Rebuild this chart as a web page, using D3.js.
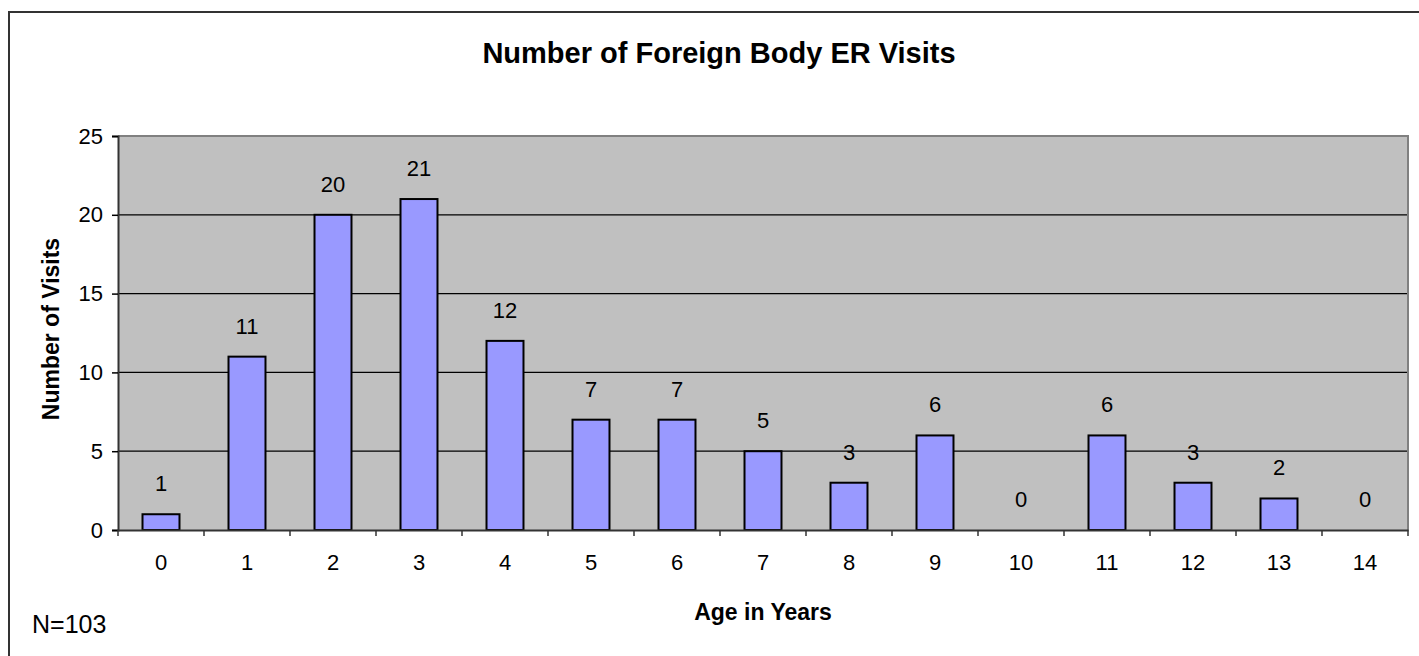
<!DOCTYPE html>
<html>
<head>
<meta charset="utf-8">
<script src="https://cdn.jsdelivr.net/npm/d3@7"></script>
<style>
  html, body { margin: 0; padding: 0; background: #fff; overflow: hidden; }
  svg { display: block; font-family: "Liberation Sans", Arial, sans-serif; }
</style>
</head>
<body>
<svg id="chart" width="1419" height="656"></svg>
<script>
const ages = ["0","1","2","3","4","5","6","7","8","9","10","11","12","13","14"];
const visits = [1, 11, 20, 21, 12, 7, 7, 5, 3, 6, 0, 6, 3, 2, 0];
const yTicks = [0, 5, 10, 15, 20, 25];
const titleText = "Number of Foreign Body ER Visits";
const xTitle = "Age in Years";
const yTitle = "Number of Visits";
const noteText = "N=103";

const svg = d3.select("#chart");
const W = 1419, H = 656;
const plot = { left: 118, right: 1408, top: 136, bottom: 530 };

// outer frame: only left and top edges are inside the picture
svg.append("line").attr("x1", 9).attr("x2", 9).attr("y1", 11).attr("y2", H)
  .attr("stroke", "#333").attr("stroke-width", 2);
svg.append("line").attr("x1", 8).attr("x2", W).attr("y1", 12).attr("y2", 12)
  .attr("stroke", "#333").attr("stroke-width", 2);

const x = d3.scaleBand().domain(ages).range([plot.left, plot.right])
  .paddingInner(0.57).paddingOuter(0.285);
const y = d3.scaleLinear().domain([0, 25]).range([plot.bottom, plot.top]);

// plot background
svg.append("rect")
  .attr("x", plot.left).attr("y", plot.top)
  .attr("width", plot.right - plot.left).attr("height", plot.bottom - plot.top)
  .attr("fill", "#c0c0c0");

// gridlines
svg.append("g").selectAll("line").data(yTicks.filter(t => t > 0 && t < 25)).join("line")
  .attr("x1", plot.left).attr("x2", plot.right)
  .attr("y1", d => y(d)).attr("y2", d => y(d))
  .attr("stroke", "#000").attr("stroke-width", 1.2);

// top and right border (gray)
svg.append("path")
  .attr("d", `M${plot.left},${plot.top}H${plot.right}V${plot.bottom}`)
  .attr("fill", "none").attr("stroke", "#808080").attr("stroke-width", 2);

// bars
svg.append("g").selectAll("rect").data(ages).join("rect")
  .attr("x", (d) => x(d))
  .attr("y", (d, i) => y(visits[i]))
  .attr("width", x.bandwidth())
  .attr("height", (d, i) => y(0) - y(visits[i]))
  .attr("fill", "#9999ff")
  .attr("stroke", (d, i) => visits[i] > 0 ? "#000" : "none")
  .attr("stroke-width", 2);

// value labels
svg.append("g").selectAll("text").data(ages).join("text")
  .attr("x", d => x(d) + x.bandwidth() / 2)
  .attr("y", (d, i) => y(visits[i]) - 23)
  .attr("text-anchor", "middle")
  .attr("font-size", 22)
  .attr("fill", "#000")
  .text((d, i) => visits[i]);

// y axis
const yAxis = d3.axisLeft(y).tickValues(yTicks).tickSize(6).tickPadding(9);
const gy = svg.append("g").attr("transform", `translate(${plot.left},0)`).call(yAxis);
gy.select(".domain").attr("stroke", "#333").attr("stroke-width", 2);
gy.selectAll(".tick line").attr("stroke", "#000").attr("stroke-width", 1.5);
gy.selectAll(".tick text").attr("font-size", 22).attr("fill", "#000")
  .attr("font-family", "Liberation Sans, Arial, sans-serif");

// x axis
const xAxis = d3.axisBottom(x).tickSize(0).tickPadding(24);
const gx = svg.append("g").attr("transform", `translate(0,${plot.bottom})`).call(xAxis);
gx.select(".domain").attr("stroke", "#333").attr("stroke-width", 2);
gx.selectAll(".tick text").attr("font-size", 22).attr("fill", "#000")
  .attr("font-family", "Liberation Sans, Arial, sans-serif");
// x tick marks at category boundaries
const step = x.step();
const boundaries = ages.map(d => x(d) - (step - x.bandwidth()) / 2).concat([plot.right]);
svg.append("g").selectAll("line").data(boundaries).join("line")
  .attr("x1", d => d).attr("x2", d => d)
  .attr("y1", plot.bottom).attr("y2", plot.bottom + 6)
  .attr("stroke", "#333").attr("stroke-width", 1.5);

// titles
svg.append("text")
  .attr("x", 719).attr("y", 63)
  .attr("text-anchor", "middle").attr("font-weight", "bold").attr("font-size", 29)
  .text(titleText);

svg.append("text")
  .attr("x", (plot.left + plot.right) / 2).attr("y", 620)
  .attr("text-anchor", "middle").attr("font-weight", "bold").attr("font-size", 23)
  .text(xTitle);

svg.append("text")
  .attr("transform", `translate(59,${(plot.top + plot.bottom) / 2 - 4}) rotate(-90)`)
  .attr("text-anchor", "middle").attr("font-weight", "bold").attr("font-size", 23)
  .text(yTitle);

svg.append("text")
  .attr("x", 32).attr("y", 633)
  .attr("font-size", 25)
  .text(noteText);
</script>
</body>
</html>
